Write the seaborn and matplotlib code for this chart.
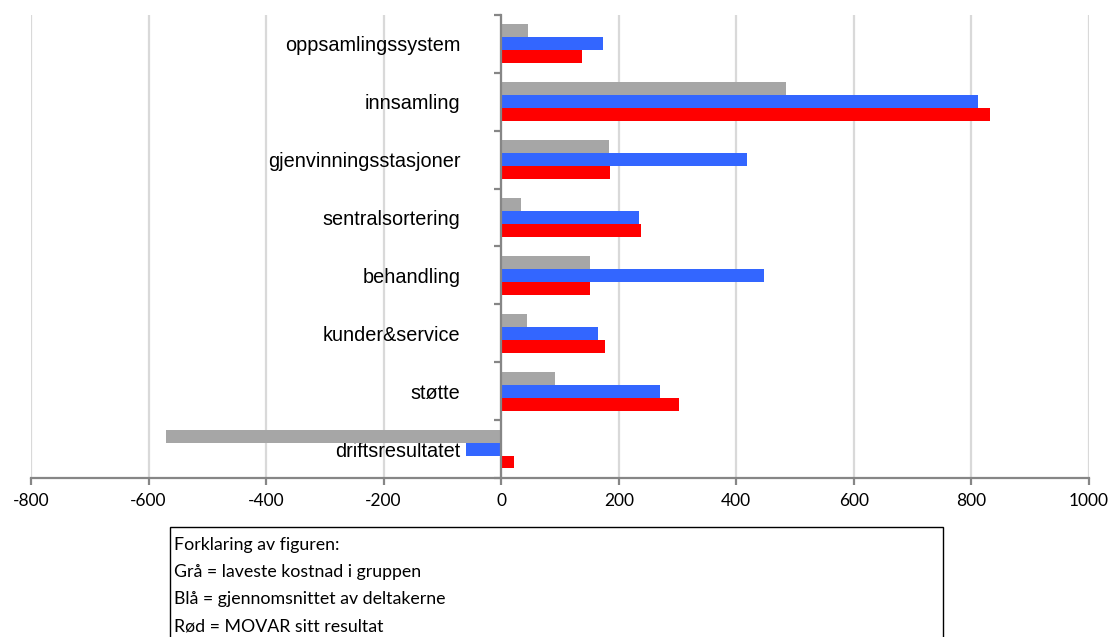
import matplotlib
matplotlib.use("Agg")
import matplotlib.pyplot as plt
from matplotlib.patches import Rectangle
import numpy as np
import pandas as pd
import seaborn as sns

# Cost categories (top to bottom) and the three compared series
categories = [
    "oppsamlingssystem",
    "innsamling",
    "gjenvinningsstasjoner",
    "sentralsortering",
    "behandling",
    "kunder&service",
    "støtte",
    "driftsresultatet",
]
lowest = [45, 485, 183, 33, 151, 44, 91, -571]      # laveste kostnad i gruppen
average = [173, 812, 419, 234, 447, 165, 270, -60]  # gjennomsnittet av deltakerne
movar = [137, 831, 185, 238, 151, 176, 303, 22]     # MOVAR sitt resultat

series = ["Grå", "Blå", "Rød"]
colors = ["#A6A6A6", "#3366FF", "#FF0000"]
x_ticks = list(range(-800, 1001, 200))

legend_lines = [
    "Forklaring av figuren:",
    "Grå = laveste kostnad i gruppen",
    "Blå = gjennomsnittet av deltakerne",
    "Rød = MOVAR sitt resultat",
]

df = pd.DataFrame({
    "kategori": categories * 3,
    "verdi": lowest + average + movar,
    "serie": [series[0]] * 8 + [series[1]] * 8 + [series[2]] * 8,
})

plt.rcParams["font.family"] = ["Liberation Sans", "DejaVu Sans"]

fig = plt.figure(figsize=(11.18, 6.37), dpi=100)
ax = fig.add_axes([0.0277, 0.2496, 0.9463, 0.727])

sns.barplot(
    data=df, y="kategori", x="verdi", hue="serie",
    order=categories, hue_order=series, palette=colors,
    orient="h", width=0.67, gap=0, saturation=1,
    errorbar=None, linewidth=0, legend=False, ax=ax,
)

ax.set_xlim(-800, 1000)
ax.set_ylim(7.5, -0.5)
ax.set_xticks(x_ticks)
ax.set_xticklabels([str(t) for t in x_ticks], fontfamily="Lato", fontsize=12.5)
ax.set_xlabel("")
ax.set_ylabel("")

ax.grid(axis="x", color="#d9d9d9", linewidth=1.6)
ax.grid(axis="y", visible=False)
ax.set_axisbelow(True)

for side in ("top", "right"):
    ax.spines[side].set_visible(False)
ax.spines["left"].set_position(("data", 0))
ax.spines["left"].set_color("#868686")
ax.spines["left"].set_linewidth(1.6)
ax.spines["bottom"].set_color("#868686")
ax.spines["bottom"].set_linewidth(1.6)

ax.set_yticks(range(len(categories)))
ax.set_yticklabels(categories, fontsize=14.3)
ax.set_yticks(np.arange(-0.5, len(categories), 1), minor=True)
ax.tick_params(axis="y", which="major", length=0, pad=29.5)
ax.tick_params(axis="y", which="minor", length=5, width=1.6,
               color="#868686", direction="out")
ax.tick_params(axis="x", length=5, width=1.6, color="#868686", pad=6,
               labelcolor="black")

# Explanation box below the chart
fig.add_artist(Rectangle((170 / 1118, -0.01), (943 - 170) / 1118,
                         0.01 + 1 - 527 / 637, transform=fig.transFigure,
                         fill=False, edgecolor="black", linewidth=1))
for i, line in enumerate(legend_lines):
    fig.text(174 / 1118, 1 - (545 + 27 * i) / 637, line, fontfamily="Lato",
             fontsize=12.8, va="center", ha="left", color="black")

fig.savefig("out.png", dpi=100)
